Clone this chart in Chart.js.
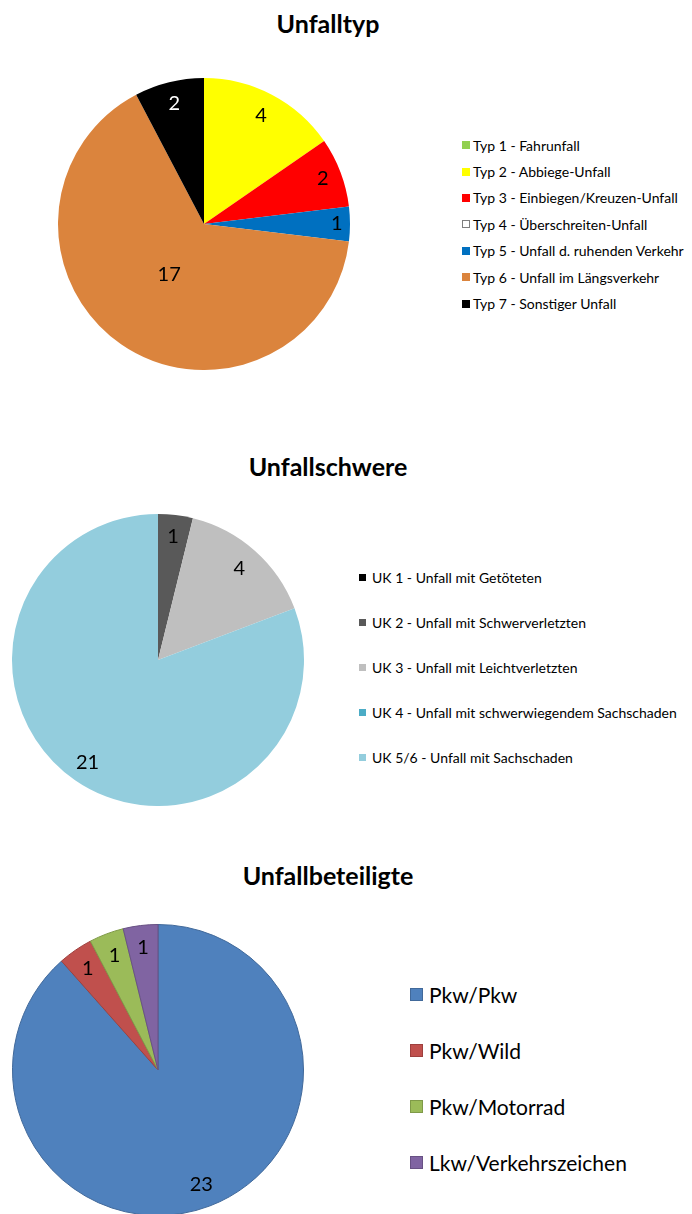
<!DOCTYPE html>
<html lang="de">
<head>
<meta charset="utf-8">
<title>Unfallstatistik</title>
<script src="https://cdn.jsdelivr.net/npm/chart.js@4.4.1/dist/chart.umd.min.js"></script>
<style>
  body { margin: 0; width: 692px; height: 1214px; position: relative; overflow: hidden; background: #fff; font-family: Lato, sans-serif; color: #000; }
  h2 { position: absolute; left: 0; width: 656px; margin: 0; text-align: center; font-size: 25px; line-height: 30px; font-weight: bold; }
  canvas { position: absolute; }
  ul.legend { position: absolute; margin: 0; padding: 0; list-style: none; }
  ul.legend li { display: flex; align-items: center; white-space: nowrap; }
  ul.legend .box { flex: none; box-sizing: border-box; border: 1px solid; }

  #typLegend { left: 462px; top: 132px; font-size: 14px; }
  #typLegend li { height: 26.4px; }
  #typLegend .box { width: 8px; height: 8px; margin-right: 3px; }

  #schwereLegend { left: 359px; top: 555px; font-size: 14px; }
  #schwereLegend li { height: 45px; }
  #schwereLegend .box { width: 7px; height: 7px; margin-right: 6px; }

  #beteiligteLegend { left: 410px; top: 966px; font-size: 21px; }
  #beteiligteLegend li { height: 56px; }
  #beteiligteLegend .box { width: 13px; height: 13px; margin-right: 6px; }
</style>
</head>
<body>

<h2 style="top: 8px;">Unfalltyp</h2>
<canvas id="typChart" width="292" height="292" style="left: 58px; top: 78px;"></canvas>
<ul class="legend" id="typLegend"></ul>

<h2 style="top: 451px;">Unfallschwere</h2>
<canvas id="schwereChart" width="292" height="292" style="left: 12px; top: 514px;"></canvas>
<ul class="legend" id="schwereLegend"></ul>

<h2 style="top: 860px;">Unfallbeteiligte</h2>
<canvas id="beteiligteChart" width="292" height="292" style="left: 12px; top: 924px;"></canvas>
<ul class="legend" id="beteiligteLegend"></ul>

<script>
// ===== DATA =====

// Unfalltyp
const typLabels = [
    "Typ 1 - Fahrunfall",
    "Typ 2 - Abbiege-Unfall",
    "Typ 3 - Einbiegen/Kreuzen-Unfall",
    "Typ 4 - Überschreiten-Unfall",
    "Typ 5 - Unfall d. ruhenden Verkehr",
    "Typ 6 - Unfall im Längsverkehr",
    "Typ 7 - Sonstiger Unfall"
];
const typValues = [0, 4, 2, 0, 1, 17, 2];

// Unfallschwere
const schwereLabels = [
    "UK 1 - Unfall mit Getöteten",
    "UK 2 - Unfall mit Schwerverletzten",
    "UK 3 - Unfall mit Leichtverletzten",
    "UK 4 - Unfall mit schwerwiegendem Sachschaden",
    "UK 5/6 - Unfall mit Sachschaden"
];
const schwereValues = [0, 1, 4, 0, 21];

// Unfallbeteiligte
const beteiligteLabels = ["Pkw/Pkw", "Pkw/Wild", "Pkw/Motorrad", "Lkw/Verkehrszeichen"];
const beteiligteValues = [23, 1, 1, 1];

// colours
const typColors = ["#92D050", "#FFFF00", "#FF0000", "#FFFFFF", "#0070C0", "#DB843D", "#000000"];
const typBorders = ["#92D050", "#FFFF00", "#FF0000", "#7F7F7F", "#0070C0", "#DB843D", "#000000"];
const schwereColors = ["#000000", "#595959", "#BFBFBF", "#4BACC6", "#93CDDD"];
const beteiligteColors = ["#4F81BD", "#C0504D", "#9BBB59", "#8064A2"];
const beteiligteBorders = ["#41699A", "#9E403E", "#7F9A48", "#685184"];

// ===== PLUGINS =====

// value in each slice (empty slices get no label)
const valueLabels = {
    id: "valueLabels",
    afterDatasetsDraw(chart, args, opts) {
        const ctx = chart.ctx;
        const values = chart.data.datasets[0].data;
        ctx.save();
        ctx.font = opts.font;
        ctx.textAlign = "center";
        ctx.textBaseline = "middle";
        chart.getDatasetMeta(0).data.forEach((arc, i) => {
            if (!values[i]) return;
            const mid = (arc.startAngle + arc.endAngle) / 2;
            const dist = arc.outerRadius * opts.radius[i];
            ctx.fillStyle = opts.color[i] || "#000";
            ctx.fillText(values[i], arc.x + Math.cos(mid) * dist, arc.y + Math.sin(mid) * dist);
        });
        ctx.restore();
    }
};

// legend as a list next to the chart
const htmlLegend = {
    id: "htmlLegend",
    afterUpdate(chart, args, opts) {
        const list = document.getElementById(opts.containerID);
        list.innerHTML = "";
        const items = chart.options.plugins.legend.labels.generateLabels(chart);
        items.forEach(item => {
            const li = document.createElement("li");
            const box = document.createElement("span");
            box.className = "box";
            box.style.background = item.fillStyle;
            box.style.borderColor = item.strokeStyle;
            const text = document.createElement("span");
            text.textContent = item.text;
            li.append(box, text);
            list.appendChild(li);
        });
    }
};

function pieOptions(legendId, radius, labelColors) {
    return {
        responsive: false,
        animation: false,
        events: [],
        plugins: {
            legend: { display: false },
            tooltip: { enabled: false },
            htmlLegend: { containerID: legendId },
            valueLabels: { font: "20px Lato", radius: radius, color: labelColors }
        }
    };
}

document.addEventListener("DOMContentLoaded", function () {

    // Unfalltyp Chart
    new Chart(document.getElementById("typChart"), {
        type: "pie",
        data: {
            labels: typLabels,
            datasets: [{
                data: typValues,
                backgroundColor: typColors,
                borderColor: typBorders,
                borderWidth: 0,
                hoverBorderWidth: 0,
                hoverOffset: 0
            }]
        },
        options: pieOptions("typLegend",
            [0.85, 0.84, 0.87, 0.85, 0.91, 0.42, 0.85],
            ["#000", "#000", "#000", "#000", "#000", "#000", "#FFF"]),
        plugins: [valueLabels, htmlLegend]
    });

    // Unfallschwere Chart
    new Chart(document.getElementById("schwereChart"), {
        type: "pie",
        data: {
            labels: schwereLabels,
            datasets: [{
                data: schwereValues,
                backgroundColor: schwereColors,
                borderColor: schwereColors,
                borderWidth: 0,
                hoverBorderWidth: 0,
                hoverOffset: 0
            }]
        },
        options: pieOptions("schwereLegend",
            [0.85, 0.85, 0.84, 0.85, 0.85],
            []),
        plugins: [valueLabels, htmlLegend]
    });

    // Unfallbeteiligte Chart
    new Chart(document.getElementById("beteiligteChart"), {
        type: "pie",
        data: {
            labels: beteiligteLabels,
            datasets: [{
                data: beteiligteValues,
                backgroundColor: beteiligteColors,
                borderColor: beteiligteBorders,
                borderWidth: 1,
                hoverBorderWidth: 0,
                hoverOffset: 0
            }]
        },
        options: pieOptions("beteiligteLegend",
            [0.84, 0.85, 0.84, 0.85],
            []),
        plugins: [valueLabels, htmlLegend]
    });

});
</script>
</body>
</html>
